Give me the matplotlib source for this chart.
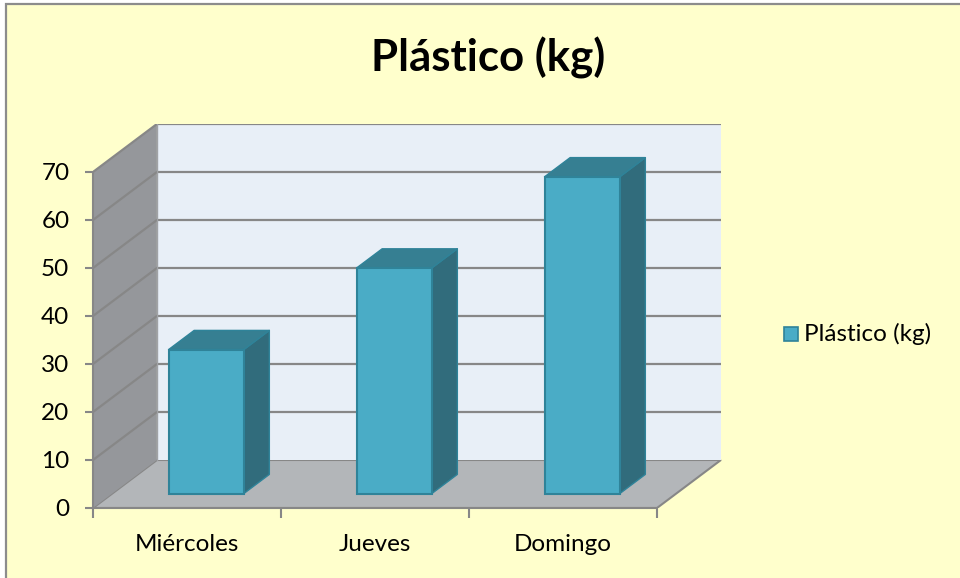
import matplotlib
matplotlib.use("Agg")
import matplotlib.pyplot as plt
from matplotlib.patches import Polygon, Rectangle

# Data
categories = ["Miércoles", "Jueves", "Domingo"]
values = [30, 47, 66]
series_name = "Plástico (kg)"
y_ticks = [0, 10, 20, 30, 40, 50, 60, 70]

# Styling
FONT = "Lato"
chart_bg = "#FFFFCC"
wall_back = "#E8EFF7"
wall_side = "#95979B"
floor_col = "#B3B6B9"
grid_col = "#878787"
bar_front = "#4AACC6"
bar_top = "#367F92"
bar_side = "#316C7C"
bar_edge = "#2F8399"
LABEL_SIZE = 17.5

W, H = 960, 578
fig = plt.figure(figsize=(W / 100, H / 100), dpi=100)
fig.patch.set_facecolor("white")

# Chart area frame
fig.patches.append(Rectangle((6 / W, -0.01), 1.0, 1 - 4 / H + 0.01,
                             transform=fig.transFigure, facecolor=chart_bg,
                             edgecolor="#8C8C8C", linewidth=1.6, zorder=-5))

# Oblique 3D geometry in data units
ymax = 70
n = len(categories)
DX = 0.34          # depth offset along category axis
DY = 10.0          # depth offset along value axis
bar_w = 0.40
d0, d1 = 0.30, 0.70  # bar depth range (fraction of full depth)

x0_px, x1_px = 93, 93 + (n + DX + 0.01) * 188
y0_px = 508
ax = fig.add_axes([x0_px / W, (H - y0_px) / H, (x1_px - x0_px) / W, 384 / H])
ax.set_zorder(1)
ax.set_xlim(0, n + DX + 0.01)
ax.set_ylim(0, ymax + DY)
ax.patch.set_alpha(0)

# Floor
ax.add_patch(Polygon([(0, 0), (n, 0), (n + DX, DY), (DX, DY)], closed=True,
                     facecolor=floor_col, edgecolor=grid_col, linewidth=1.5, zorder=1))
# Back wall
ax.add_patch(Polygon([(DX, DY), (n + DX, DY), (n + DX, ymax + DY), (DX, ymax + DY)],
                     closed=True, facecolor=wall_back, edgecolor="none", zorder=1))
# Side wall
ax.add_patch(Polygon([(0, 0), (DX, DY), (DX, ymax + DY), (0, ymax)], closed=True,
                     facecolor=wall_side, edgecolor="none", zorder=1))
# Gridlines on back wall and side wall
for t in y_ticks[1:]:
    ax.plot([DX, n + DX], [t + DY, t + DY], color=grid_col, lw=1.6, zorder=2,
            solid_capstyle="butt")
    ax.plot([0, DX], [t, t + DY], color=grid_col, lw=1.6, zorder=2)
ax.plot([DX, DX], [DY, ymax + DY], color="#A0A2A6", lw=1.0, zorder=2)

# Bars
for i, v in enumerate(values):
    c = i + 0.5
    fx0 = c - bar_w / 2 + d0 * DX
    fx1 = c + bar_w / 2 + d0 * DX
    fy0 = d0 * DY
    fy1 = v + d0 * DY
    ddx = (d1 - d0) * DX
    ddy = (d1 - d0) * DY
    side = [(fx1, fy0), (fx1 + ddx, fy0 + ddy), (fx1 + ddx, fy1 + ddy), (fx1, fy1)]
    top = [(fx0, fy1), (fx1, fy1), (fx1 + ddx, fy1 + ddy), (fx0 + ddx, fy1 + ddy)]
    front = [(fx0, fy0), (fx1, fy0), (fx1, fy1), (fx0, fy1)]
    ax.add_patch(Polygon(side, closed=True, facecolor=bar_side, edgecolor=bar_edge,
                         linewidth=1.0, zorder=3, joinstyle="round"))
    ax.add_patch(Polygon(top, closed=True, facecolor=bar_top, edgecolor=bar_edge,
                         linewidth=1.0, zorder=3, joinstyle="round"))
    ax.add_patch(Polygon(front, closed=True, facecolor=bar_front, edgecolor=bar_edge,
                         linewidth=1.5, zorder=4))

# Axes lines and ticks
for s in ("top", "right"):
    ax.spines[s].set_visible(False)
ax.spines["left"].set_bounds(0, ymax)
ax.spines["bottom"].set_bounds(0, n)
for s in ("left", "bottom"):
    ax.spines[s].set_color(grid_col)
    ax.spines[s].set_linewidth(1.5)
    ax.spines[s].set_zorder(5)

ax.set_yticks(y_ticks)
ax.set_yticklabels([str(t) for t in y_ticks], fontsize=LABEL_SIZE, family=FONT)
ax.tick_params(axis="y", length=6, width=1.5, color=grid_col, pad=11)

ax.set_xticks(range(n + 1))
ax.set_xticklabels([])
ax.tick_params(axis="x", which="major", length=7, width=1.5, color=grid_col)
ax.set_xticks([i + 0.5 for i in range(n)], minor=True)
ax.set_xticklabels(categories, minor=True, fontsize=LABEL_SIZE, family=FONT)
ax.tick_params(axis="x", which="minor", length=0, pad=19)

# Title
fig.text(488 / W, 1 - 58 / H, series_name, ha="center", va="center",
         fontsize=31.5, fontweight="bold", family=FONT)

# Legend
fig.patches.append(Rectangle((784 / W, 1 - 341 / H), 14 / W, 14 / H,
                             transform=fig.transFigure, facecolor=bar_front,
                             edgecolor=bar_edge, linewidth=1.2, zorder=5))
fig.text(804 / W, 1 - 334 / H, series_name, ha="left", va="center",
         fontsize=LABEL_SIZE, family=FONT)

fig.savefig("out.png", dpi=100, facecolor=fig.get_facecolor())
